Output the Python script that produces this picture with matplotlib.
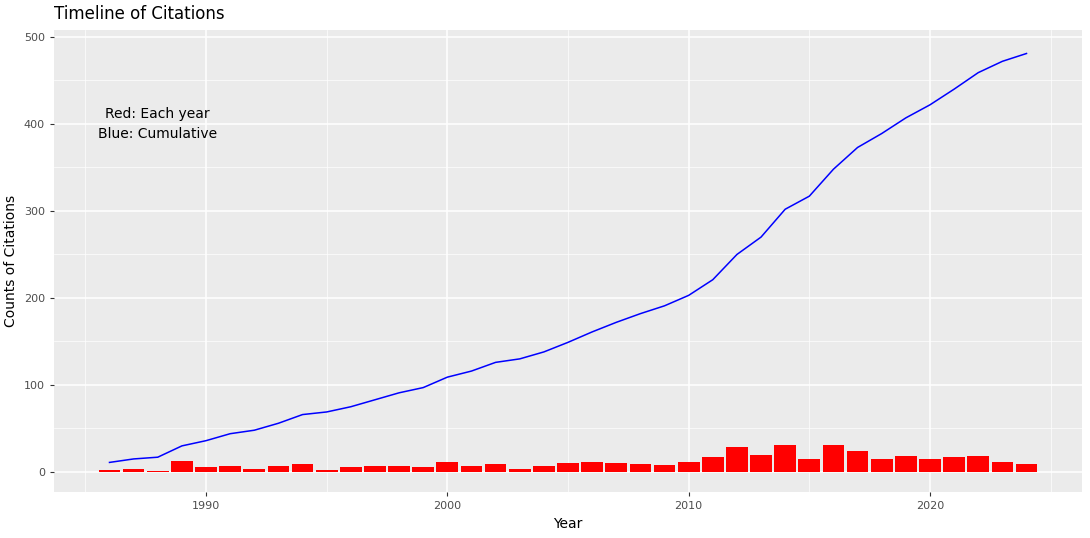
import matplotlib.pyplot as plt
from matplotlib.ticker import MultipleLocator

years = list(range(1986, 2025))
each_year = [2, 3, 1, 13, 6, 7, 3, 7, 9, 2, 6, 7, 7, 6, 11, 7, 9, 3, 7, 10,
             11, 10, 9, 8, 11, 17, 29, 20, 31, 15, 31, 24, 15, 18, 15, 17, 18, 11, 9]
cumulative = [11, 15, 17, 30, 36, 44, 48, 56, 66, 69, 75, 83, 91, 97, 109, 116, 126, 130, 138, 149,
              161, 172, 182, 191, 203, 221, 250, 270, 302, 317, 348, 373, 389, 407, 422, 440, 459, 472, 481]

fig = plt.figure(figsize=(10.9, 5.38), dpi=100)
ax = fig.add_axes([54/1090, 46/538, 1028/1090, 462/538])
ax.set_facecolor('#EBEBEB')
for s in ax.spines.values():
    s.set_visible(False)

ax.xaxis.set_major_locator(MultipleLocator(10))
ax.xaxis.set_minor_locator(MultipleLocator(5))
ax.yaxis.set_major_locator(MultipleLocator(100))
ax.yaxis.set_minor_locator(MultipleLocator(50))
ax.grid(which='major', color='white', linewidth=1.1)
ax.grid(which='minor', color='white', linewidth=0.5)
ax.set_axisbelow(True)
ax.tick_params(which='minor', length=0)
ax.tick_params(which='major', color='#333333', length=3, labelsize=8, labelcolor='#4D4D4D')

ax.bar(years, each_year, width=0.9, color='red')
ax.plot(years, cumulative, color='blue', linewidth=1.1)
ax.text(1988, 400, 'Red: Each year\nBlue: Cumulative', ha='center', va='center',
        fontsize=10, linespacing=1.5)

ax.set_xlim(1983.7, 2026.3)
ax.set_ylim(-23, 508)
ax.set_xlabel('Year', fontsize=10)
ax.set_ylabel('Counts of Citations', fontsize=10)
fig.text(54/1090, 1 - 14/538, 'Timeline of Citations', fontsize=12, va='center')

fig.savefig('out.png')
